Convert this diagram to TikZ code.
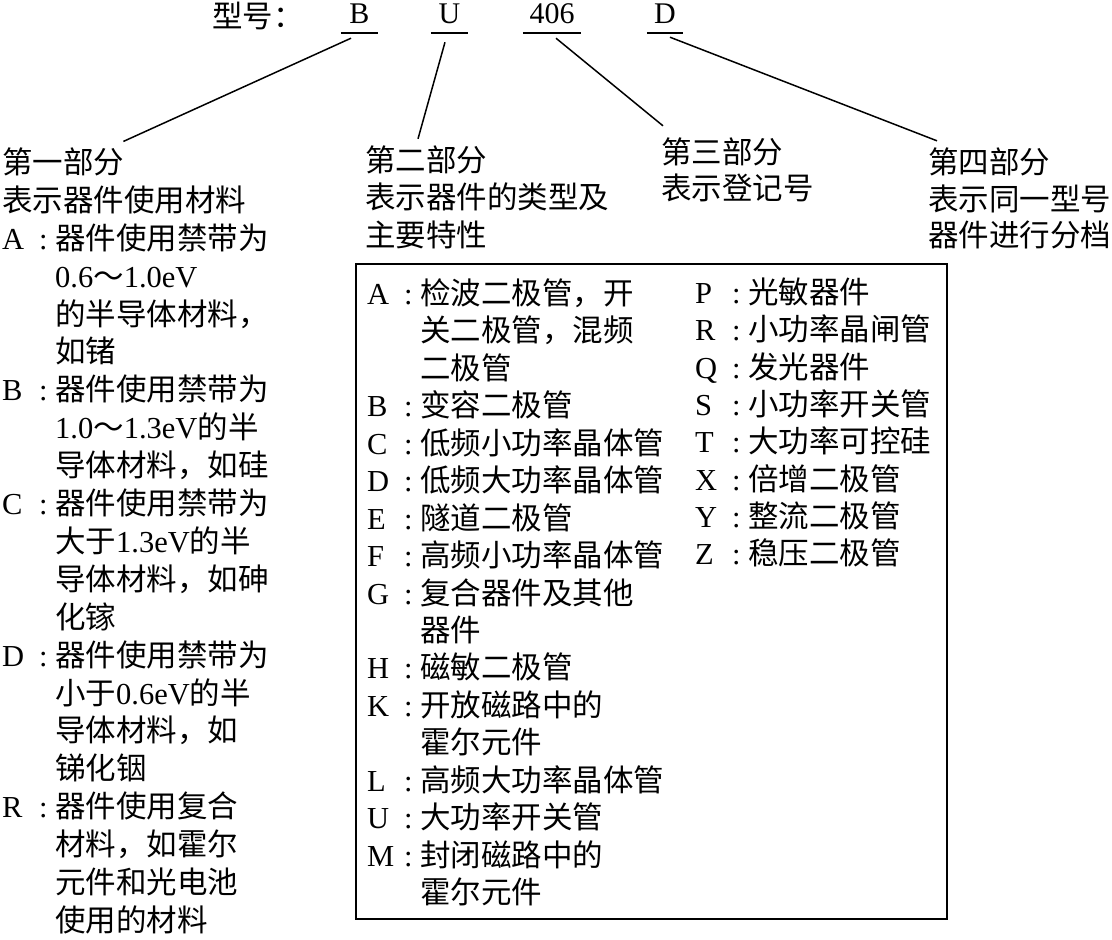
\documentclass[tikz,border=0pt]{standalone}
\usepackage{fontspec}
\setmainfont{Noto Sans CJK SC}
\newfontfamily\tms{Liberation Serif}
\newcommand\lab[1]{\makebox[53pt][l]{\makebox[37pt][l]{\tms #1}{\tms :}}}
\newcommand\ind{\hspace*{53pt}}
\newcommand\lt[1]{{\tms #1}}
\begin{document}
\begin{tikzpicture}[x=1pt,y=-1pt,
  txt/.style={anchor=base west, inner sep=0pt, font=\fontsize{30.5}{36}\selectfont},
  code/.style={anchor=base, inner sep=0pt, minimum width=37pt, text depth=9.5pt, font=\tms\fontsize{30}{36}\selectfont},
  uline/.style={line width=1.8pt},
  conn/.style={line width=1.5pt},
  frame/.style={draw, line width=1.6pt, inner sep=0pt, anchor=north west}]
\fill[white] (0,0) rectangle (1112,940);
\useasboundingbox (0,0) rectangle (1112,940);

% top row
\node[txt] (T0) at (212,27) {型号：};
\node[code] (cB) at (359.5,23.5) {B};
\node[code] (cU) at (449.5,23.5) {U};
\node[code, minimum width=58pt] (c406) at (552,23.5) {406};
\node[code, minimum width=36pt] (cD) at (665,23.5) {D};
\foreach \n in {cB,cU,c406,cD} \draw[uline] (\n.south west) -- (\n.south east);

% part 1
\node[txt] (L0) at (2,173.4) {第一部分};
\node[txt] (L1) at (2,211.3) {表示器件使用材料};
\foreach \t [count=\i from 2] in {
  {\lab{A}器件使用禁带为},
  {\ind\lt{0.6}～\lt{1.0eV}},
  {\ind 的半导体材料，},
  {\ind 如锗},
  {\lab{B}器件使用禁带为},
  {\ind\lt{1.0}～\lt{1.3eV}的半},
  {\ind 导体材料，如硅},
  {\lab{C}器件使用禁带为},
  {\ind 大于\lt{1.3eV}的半},
  {\ind 导体材料，如砷},
  {\ind 化镓},
  {\lab{D}器件使用禁带为},
  {\ind 小于\lt{0.6eV}的半},
  {\ind 导体材料，如},
  {\ind 锑化铟},
  {\lab{R}器件使用复合},
  {\ind 材料，如霍尔},
  {\ind 元件和光电池},
  {\ind 使用的材料}}
  \node[txt] (L\i) at (2,{173.4+37.9*\i}) {\t};

% part 2
\node[txt] (M0) at (365,171.4) {第二部分};
\node[txt] (M1) at (365,208.9) {表示器件的类型及};
\node[txt] (M2) at (365,246.4) {主要特性};

% part 3
\node[txt] (N0) at (661,163.4) {第三部分};
\node[txt] (N1) at (661,199.4) {表示登记号};

% part 4
\node[txt] (Q0) at (928,173.4) {第四部分};
\node[txt] (Q1) at (928,210.4) {表示同一型号};
\node[txt] (Q2) at (928,246.4) {器件进行分档};

% box
\node[frame, minimum width=591pt, minimum height=655pt] (box) at (355,263) {};
\foreach \t [count=\i from 0] in {
  {\lab{A}检波二极管，开},
  {\ind 关二极管，混频},
  {\ind 二极管},
  {\lab{B}变容二极管},
  {\lab{C}低频小功率晶体管},
  {\lab{D}低频大功率晶体管},
  {\lab{E}隧道二极管},
  {\lab{F}高频小功率晶体管},
  {\lab{G}复合器件及其他},
  {\ind 器件},
  {\lab{H}磁敏二极管},
  {\lab{K}开放磁路中的},
  {\ind 霍尔元件},
  {\lab{L}高频大功率晶体管},
  {\lab{U}大功率开关管},
  {\lab{M}封闭磁路中的},
  {\ind 霍尔元件}}
  \node[txt] (BL\i) at (367,{304.4+37.45*\i}) {\t};
\foreach \t [count=\i from 0] in {
  {\lab{P}光敏器件},
  {\lab{R}小功率晶闸管},
  {\lab{Q}发光器件},
  {\lab{S}小功率开关管},
  {\lab{T}大功率可控硅},
  {\lab{X}倍增二极管},
  {\lab{Y}整流二极管},
  {\lab{Z}稳压二极管}}
  \node[txt] (BR\i) at (695,{303.4+37.35*\i}) {\t};

% connectors
\draw[conn] ([xshift=-8.5pt,yshift=-5pt]cB.south) -- ([xshift=-1pt,yshift=6pt]L0.north east);
\draw[conn] ([xshift=-4.5pt,yshift=-9pt]cU.south) -- ([xshift=53pt,yshift=6.6pt]M0.north west);
\draw[conn] ([xshift=4pt,yshift=-5pt]c406.south) -- ([xshift=2pt,yshift=11.6pt]N0.north west);
\draw[conn] ([xshift=5pt,yshift=-4pt]cD.south) -- ([xshift=9pt,yshift=6.6pt]Q0.north west);
\end{tikzpicture}
\end{document}
